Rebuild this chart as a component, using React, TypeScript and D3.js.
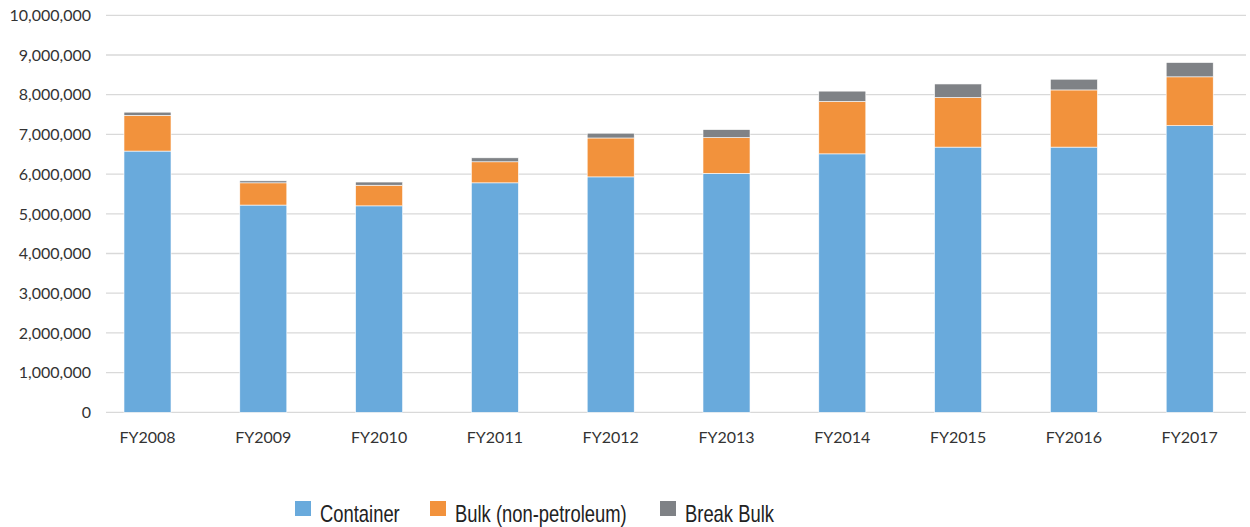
import React from 'react';
import * as d3 from 'd3';

const years = ['FY2008', 'FY2009', 'FY2010', 'FY2011', 'FY2012', 'FY2013', 'FY2014', 'FY2015', 'FY2016', 'FY2017'];
const container = [6580000, 5220000, 5200000, 5780000, 5930000, 6020000, 6510000, 6680000, 6680000, 7220000];
const bulk = [900000, 560000, 520000, 530000, 980000, 900000, 1320000, 1250000, 1440000, 1230000];
const breakBulk = [80000, 50000, 80000, 100000, 120000, 200000, 260000, 340000, 270000, 360000];
const seriesNames = ['Container', 'Bulk (non-petroleum)', 'Break Bulk'];
const colors = ['#69aadc', '#f2923c', '#7f8286'];
const yTicks = d3.range(0, 10000001, 1000000);

const W = 1250;
const H = 527;

export default function App() {
  const x = d3.scaleBand<string>().domain(years).range([89.6, 1247.6]).paddingInner(0.594).paddingOuter(0.297);
  const y = d3.scaleLinear().domain([0, 10000000]).range([412.3, 15.3]);
  const fmt = d3.format(',');

  const rows = years.map((yr, i) => ({ year: yr, c: container[i], b: bulk[i], k: breakBulk[i] }));
  const stack = d3.stack<any>().keys(['c', 'b', 'k'])(rows);

  const legendX = [295, 430, 660];

  return (
    <svg width={W} height={H} style={{ position: 'absolute', left: 0, top: 0 }}>
      <rect width={W} height={H} fill="#fff" />
      {yTicks.map((t) => (
        <g key={t}>
          <line x1={106} x2={1246} y1={y(t)} y2={y(t)} stroke="#d9d9d9" strokeWidth={1.3} />
          <text x={91} y={y(t)} dy="0.36em" textAnchor="end" fontFamily="Lato, 'Open Sans', sans-serif" fontSize={16} fill="#333">
            {fmt(t)}
          </text>
        </g>
      ))}
      {stack.map((s, si) => (
        <g key={si} fill={colors[si]}>
          {s.map((d, i) => (
            <rect
              key={i}
              x={x(years[i])}
              width={x.bandwidth()}
              y={y(d[1])}
              height={y(d[0]) - y(d[1])}
              stroke="#fff"
              strokeWidth={0.6}
            />
          ))}
        </g>
      ))}
      {years.map((yr) => (
        <text key={yr} x={(x(yr) ?? 0) + x.bandwidth() / 2} y={443} textAnchor="middle" fontFamily="Lato, 'Open Sans', sans-serif" fontSize={16} fill="#333">
          {yr}
        </text>
      ))}
      {seriesNames.map((n, i) => (
        <g key={n}>
          <rect x={legendX[i]} y={501} width={16} height={15} fill={colors[i]} />
          <text
            transform={`translate(${legendX[i] + 25},522) scale(0.8,1)`}
            fontFamily="'Liberation Sans', Arial, sans-serif"
            fontSize={23}
            fill="#222"
          >
            {n}
          </text>
        </g>
      ))}
    </svg>
  );
}
